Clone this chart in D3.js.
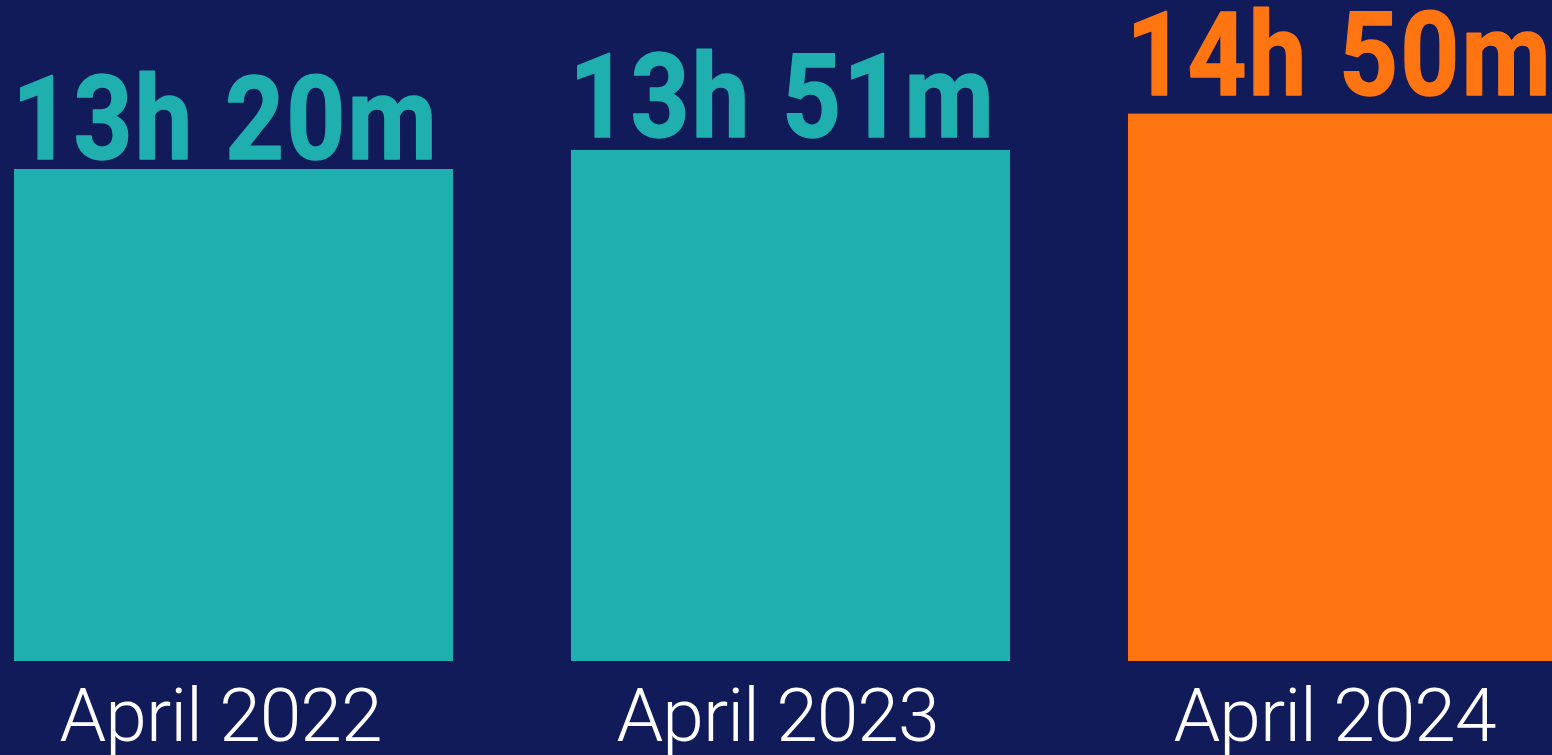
<!DOCTYPE html>
<html>
<head>
<meta charset="utf-8">
<script src="https://cdn.jsdelivr.net/npm/d3@7"></script>
<style>
  html, body { margin: 0; padding: 0; background: #121B5A; overflow: hidden; }
  svg { display: block; }
</style>
</head>
<body>
<svg id="chart" width="1552" height="755"></svg>
<script>
// Average daily screen time, in minutes, for each April
const categories = ["April 2022", "April 2023", "April 2024"];
const minutes = [800, 831, 890];
const valueLabels = ["13h 20m", "13h 51m", "14h 50m"];
const highlight = [false, false, true];

const W = 1552, H = 755;
const svg = d3.select("#chart");

svg.append("rect").attr("width", W).attr("height", H).attr("fill", "#121B5A");

const x = d3.scaleBand()
  .domain(categories)
  .range([14, 1567])
  .paddingInner(0.2118)
  .paddingOuter(0);

const y = d3.scaleLinear().domain([0, 1000]).range([661, 46]);
// value labels float a little higher above the taller bars
const yLabel = d3.scaleLinear().domain([0, 1000]).range([730.5, 16.5]);

const rows = categories.map((c, i) => ({
  cat: c, v: minutes[i], label: valueLabels[i], hot: highlight[i]
}));

const colour = d => d.hot ? "#FF7511" : "#1FAFAF";

svg.selectAll("rect.bar")
  .data(rows)
  .join("rect")
  .attr("class", "bar")
  .attr("x", d => x(d.cat))
  .attr("y", d => y(d.v))
  .attr("width", x.bandwidth())
  .attr("height", d => y(0) - y(d.v))
  .attr("fill", colour);

// bold value labels, narrowed horizontally for a condensed look
svg.selectAll("g.value")
  .data(rows)
  .join("g")
  .attr("class", "value")
  .attr("transform", d => `translate(${x(d.cat) + x.bandwidth() / 2 - 8},${yLabel(d.v)}) scale(0.88,1)`)
  .append("text")
  .attr("text-anchor", "middle")
  .attr("font-family", "Roboto, 'DejaVu Sans', sans-serif")
  .attr("font-weight", 700)
  .attr("font-size", 117)
  .attr("letter-spacing", 2.5)
  .attr("word-spacing", 3)
  .attr("fill", colour)
  .attr("stroke", colour)
  .attr("stroke-width", 1.5)
  .attr("stroke-linejoin", "round")
  .text(d => d.label);

svg.selectAll("text.cat")
  .data(rows)
  .join("text")
  .attr("class", "cat")
  .attr("x", d => x(d.cat) + x.bandwidth() / 2 - 13)
  .attr("y", 741)
  .attr("text-anchor", "middle")
  .attr("font-family", "Roboto, 'DejaVu Sans', sans-serif")
  .attr("font-weight", 300)
  .attr("font-size", 75)
  .attr("letter-spacing", -1)
  .attr("fill", "#FFFFFF")
  .text(d => d.cat);
</script>
</body>
</html>
